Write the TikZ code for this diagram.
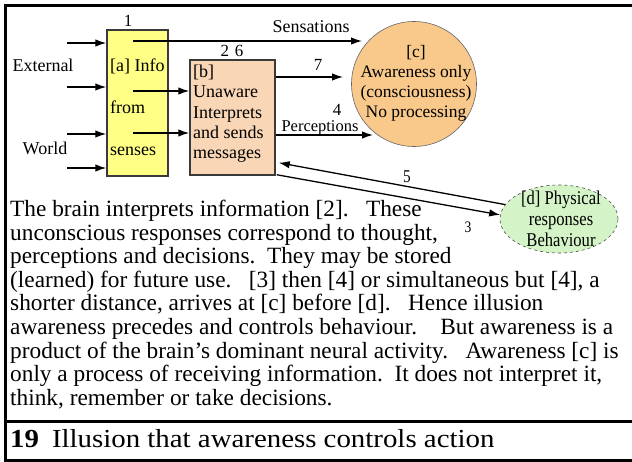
\documentclass[tikz,border=0pt]{standalone}
\usepackage{fontspec}
\setmainfont{Liberation Serif}
\newfontfamily\condserif[FakeStretch=0.85]{Liberation Serif}
\newfontfamily\titlefont[FakeStretch=1.11]{Liberation Serif}
\usetikzlibrary{arrows.meta,calc,shapes.geometric}
\definecolor{boxyellow}{HTML}{FFFF85}
\definecolor{boxpeach}{HTML}{F9D6B6}
\definecolor{circorange}{HTML}{F8C98B}
\definecolor{ellgreen}{HTML}{D4F4C8}
\definecolor{edgegray}{HTML}{3A3A3A}
\begin{document}
\begin{tikzpicture}[x=1pt,y=-1pt,
  arr/.style={line width=1.3pt,-{Latex[length=11pt,width=7.5pt]}},
  frameline/.style={line width=3pt,black},
  boxa/.style={draw=edgegray,line width=1.5pt,fill=boxyellow,minimum width=61pt,minimum height=146pt,inner sep=0pt},
  boxb/.style={draw=edgegray,line width=1.5pt,fill=boxpeach,minimum width=85pt,minimum height=115pt,inner sep=0pt},
  circc/.style={circle,draw=gray!80!black,line width=0.6pt,fill=circorange,minimum size=125pt,inner sep=0pt},
  elld/.style={ellipse,draw=gray!60!black,line width=0.6pt,dashed,fill=ellgreen,minimum width=118pt,minimum height=68pt,inner sep=0pt},
  lbl/.style={inner sep=0pt,font=\fontsize{17}{17}\selectfont},
]
\useasboundingbox (0,0) rectangle (632,462);
% frame
\draw[frameline] (632,5.3) -- (5,5.3) -- (5,460.5) -- (632,460.5);
\draw[line width=2.6pt] (5,421.5) -- (632,421.5);

% boxes
\node[boxa] (a) at (137.5,103) {};
\node[boxb] (b) at (232.5,117.5) {};
\node[circc] (c) at (414,84) {};
\node[elld] (d) at (559,219) {};

% texts in shapes
\node[inner sep=0pt,anchor=base west,align=left,font=\fontsize{18}{42}\selectfont] (atext) at (110,156) {[a] Info\\from\\senses};
\node[inner sep=0pt,anchor=north west,align=left,font=\fontsize{18}{20.2}\selectfont] (btext) at (193,65) {[b]\\Unaware\\Interprets\\and sends\\messages};
\node[inner sep=0pt,align=center,font=\fontsize{17.5}{20}\selectfont] (ctext) at (416,83) {[c]\\Awareness only\\(consciousness)\\No processing};
\node[inner sep=0pt,align=center,font=\condserif\fontsize{19.5}{21}\selectfont] (dtext) at (561,219) {[d] Physical\\responses\\Behaviour};

% side labels
\node[lbl,anchor=base,font=\fontsize{18}{18}\selectfont] (ext) at (43,72) {External};
\node[lbl,anchor=base,font=\fontsize{18}{18}\selectfont] (wld) at (45,155) {World};

% input arrows
\coordinate (in1) at (67,43);
\coordinate (in2) at (67,87);
\coordinate (in3) at (67,134);
\coordinate (in4) at (67,168);
\foreach \i in {in1,in2,in3,in4}{\draw[arr] (\i) -- (\i -| a.west);}

% a -> b
\coordinate (ab1) at (133,91);
\coordinate (ab2) at (133,133);
\draw[arr] (ab1) -- (ab1 -| b.west);
\draw[arr] (ab2) -- (ab2 -| b.west);

% sensations
\coordinate (s0) at (133,41);
\coordinate (t0) at (362,41);
\draw[arr] (s0) -- (t0);
\node[lbl,anchor=base,font=\fontsize{18}{18}\selectfont] (sens) at (311,33) {Sensations};

% 7
\coordinate (t7) at (343,77);
\draw[arr] (t7 -| b.east) -- (t7);
\node[lbl,anchor=base] (n7) at (318,71) {7};

% perceptions
\coordinate (t4) at (373,135);
\draw[arr] (t4 -| b.east) -- (t4);
\node[lbl,anchor=base,font=\fontsize{16.5}{16.5}\selectfont] (perc) at (320,132) {Perceptions};
\node[lbl,anchor=base] (n4) at (337,116) {4};

% numbers over boxes
\node[lbl,anchor=base] (n1) at (128,27) {1};
\node[lbl,anchor=base] (n26) at (232,57) {2\hspace{6pt}6};

% 5 and 3
\draw[arr] (d.165) -- ($(b.south east)+(3,-13)$);
\draw[arr] ($(b.south east)+(1,-1)$) -- (d.176);
\node[lbl,anchor=base,font=\condserif\fontsize{18}{18}\selectfont] (n5) at (407,183) {5};
\node[lbl,anchor=base,font=\condserif\fontsize{16}{16}\selectfont] (n3) at (468,233) {3};

% body text
\node[inner sep=0pt,anchor=north west,align=left,font=\fontsize{23.3}{23.6}\selectfont] (body) at (10,199.8) {The brain interprets information [2].\ \ \ These\\
unconscious responses correspond to thought,\\
perceptions and decisions.\ \ They may be stored\\
(learned) for future use.\ \ \ [3] then [4] or simultaneous but [4], a\\
shorter distance, arrives at [c] before [d].\ \ \ Hence illusion\\
awareness precedes and controls behaviour.\ \ \ \ But awareness is a\\
product of the brain’s dominant neural activity.\ \ \ Awareness [c] is\\
only a process of receiving information.\ \ It does not interpret it,\\
think, remember or take decisions.};

% title
\node[inner sep=0pt,anchor=base west,font=\titlefont\fontsize{26}{26}\selectfont] (title) at (10,447) {\textbf{19}\hspace{13pt}Illusion that awareness controls action};
\end{tikzpicture}
\end{document}
